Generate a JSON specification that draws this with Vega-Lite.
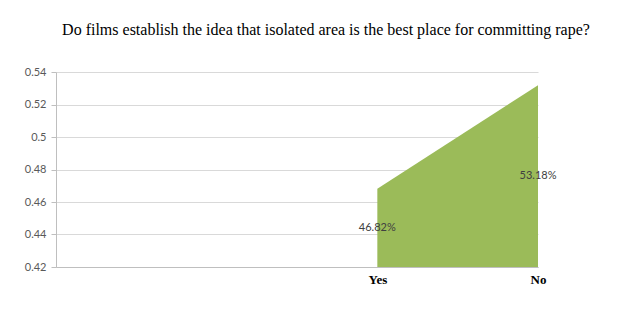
{
  "$schema": "https://vega.github.io/schema/vega-lite/v6.json",
  "autosize": {"type": "none"},
  "width": 482,
  "height": 195,
  "padding": {"left": 56, "top": 72, "right": 80, "bottom": 61},
  "background": "white",
  "title": {
    "text": "Do films establish the idea that isolated area is the best place for committing rape?",
    "font": "Liberation Serif",
    "fontSize": 16,
    "fontWeight": "normal",
    "color": "#000000",
    "anchor": "middle",
    "frame": "group",
    "dx": 29,
    "offset": 28
  },
  "data": {
    "values": [
      {"answer": "Yes", "pos": 2, "value": 0.4682, "label": "46.82%"},
      {"answer": "No", "pos": 3, "value": 0.5318, "label": "53.18%"}
    ]
  },
  "config": {
    "view": {"stroke": null},
    "axis": {"labelFont": "Lato", "labelFontSize": 11, "labelColor": "#595959", "labelOverlap": false, "labelFlush": false}
  },
  "encoding": {
    "x": {
      "field": "pos", "type": "quantitative",
      "scale": {"domain": [0, 3], "nice": false, "zero": false},
      "axis": {
        "values": [2, 3],
        "labelExpr": "datum.value == 2 ? 'Yes' : 'No'",
        "labelFont": "Liberation Serif",
        "labelFontWeight": "bold",
        "labelFontSize": 13,
        "labelColor": "#000000",
        "labelFlush": false,
        "labelOverlap": false,
        "grid": false,
        "ticks": false,
        "domainColor": "#bfbfbf",
        "labelPadding": 6,
        "title": null
      }
    }
  },
  "layer": [
    {
      "mark": {"type": "area", "color": "#9bbb59", "opacity": 1},
      "encoding": {
        "y": {
          "field": "value", "type": "quantitative",
          "scale": {"domain": [0.42, 0.54], "nice": false, "zero": false},
          "axis": {
            "values": [0.42, 0.44, 0.46, 0.48, 0.5, 0.52, 0.54],
            "format": ".2~f",
            "labelOverlap": false,
            "grid": true,
            "gridColor": "#d9d9d9",
            "domainColor": "#bfbfbf",
            "tickColor": "#bfbfbf",
            "tickSize": 5,
            "labelPadding": 5,
            "title": null
          }
        },
        "y2": {"datum": 0.42}
      }
    },
    {
      "transform": [{"calculate": "(datum.value + 0.42) / 2", "as": "mid"}],
      "mark": {"type": "text", "font": "Lato", "fontSize": 11, "color": "#404040", "baseline": "middle", "align": "center"},
      "encoding": {
        "y": {
          "field": "mid", "type": "quantitative",
          "scale": {"domain": [0.42, 0.54], "nice": false, "zero": false},
          "axis": {
            "values": [0.42, 0.44, 0.46, 0.48, 0.5, 0.52, 0.54],
            "format": ".2~f",
            "labelOverlap": false,
            "grid": true,
            "gridColor": "#d9d9d9",
            "domainColor": "#bfbfbf",
            "tickColor": "#bfbfbf",
            "tickSize": 5,
            "labelPadding": 5,
            "title": null
          }
        },
        "text": {"field": "label"}
      }
    }
  ]
}
